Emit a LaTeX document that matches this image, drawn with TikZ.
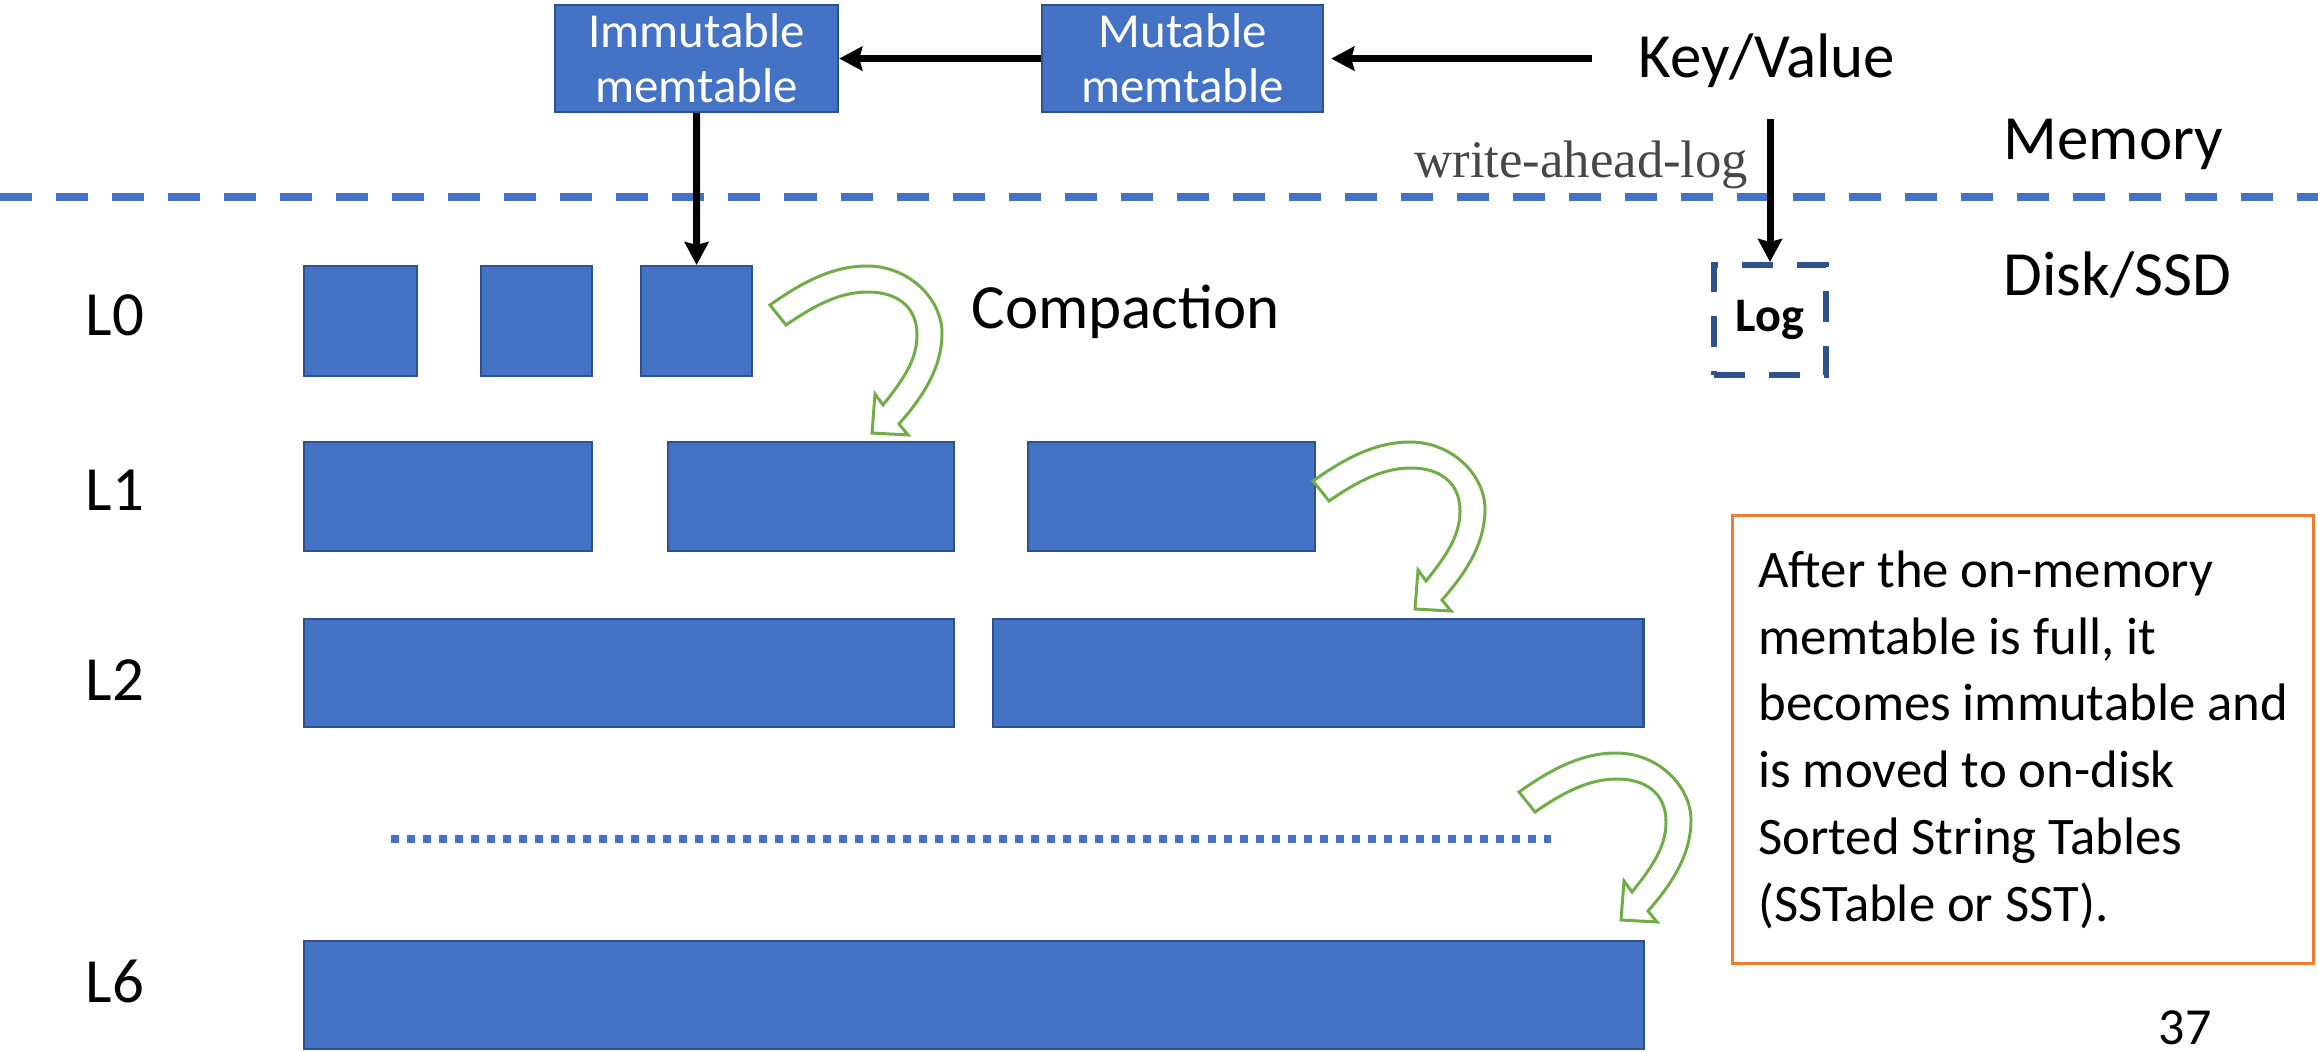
\documentclass[tikz,border=0pt]{standalone}
\usepackage{fontspec}
\setmainfont{Carlito}
\newfontfamily\walfont{Liberation Serif}
\usepackage{xcolor}
\definecolor{sstblue}{HTML}{4472C4}
\definecolor{sstedge}{HTML}{2F528F}
\definecolor{swirlgreen}{HTML}{70AD47}
\definecolor{noteorange}{HTML}{ED7D31}
\usetikzlibrary{arrows.meta}
\tikzset{>={Stealth[length=2.3mm,width=2.4mm,inset=0.3mm]}}
\tikzset{%
    sst/.style={draw=sstedge, fill=sstblue, line width=0.6pt, inner sep=0pt, anchor=north west},
    mem/.style={sst, text=white, align=center, font=\fontsize{13.9}{15.6}\selectfont},
    flow/.style={->, line width=2pt},
    swirl/.style={draw=swirlgreen, fill=white, line width=0.85pt},
    lvl/.style={anchor=base west, inner sep=0pt, font=\fontsize{17.9}{21}\selectfont}
}

\begin{document}
\begin{tikzpicture}[x=0.01cm, y=-0.01cm]
    \def\curlarrow{(0,0) .. controls (35,-25) and (65,-39) .. (97,-39)
        .. controls (140,-39) and (172,-5) .. (172,28)
        .. controls (172,65) and (150,95) .. (129,119)
        -- (138,130) -- (102,128) -- (105,89) -- (113,100)
        .. controls (133,75) and (147,55) .. (147,30)
        .. controls (147,0) and (125,-13) .. (98,-13)
        .. controls (70,-13) and (45,0) .. (16,20) -- cycle};
\useasboundingbox (0,0) rectangle (2318,1052);
% memory / disk border
\draw[sstblue, line width=2.28pt, dash pattern=on 0.32cm off 0.24cm] (0,197) -- (2318,197);
\node[mem, minimum width=2.83cm, minimum height=1.07cm] (imm) at (554,4) {Immutable\\memtable};
\node[mem, minimum width=2.81cm, minimum height=1.07cm] (mut) at (1041,4) {Mutable\\memtable};
\node[lvl] (kv) at (1638,78) {Key/Value};
\node[lvl] (memory) at (2003,160) {Memory};
\node[lvl] (disk) at (2003,296) {Disk/SSD};
\node[anchor=base east, inner sep=0pt, text=black!72, font=\walfont\fontsize{15}{17}\selectfont] (wal) at (1749,178) {write-ahead-log};
\node[draw=sstedge, line width=1.7pt, dash pattern=on 0.31cm off 0.24cm, minimum width=1.12cm, minimum height=1.1cm, font=\fontsize{13.7}{16}\selectfont\bfseries] (log) at (1770,320) {Log};
% levels
\node[lvl] (lab0) at (85,336) {L0};
\node[lvl] (lab1) at (85,511) {L1};
\node[lvl] (lab2) at (85,700) {L2};
\node[lvl] (lab6) at (85,1002) {L6};
\node[sst, minimum width=1.13cm, minimum height=1.1cm] (l0a) at (303,265) {};
\node[sst, minimum width=1.11cm, minimum height=1.1cm] (l0b) at (480,265) {};
\node[sst, minimum width=1.11cm, minimum height=1.1cm] (l0c) at (640,265) {};
\node[sst, minimum width=2.88cm, minimum height=1.09cm] (l1a) at (303,441) {};
\node[sst, minimum width=2.86cm, minimum height=1.09cm] (l1b) at (667,441) {};
\node[sst, minimum width=2.87cm, minimum height=1.09cm] (l1c) at (1027,441) {};
\node[sst, minimum width=6.5cm, minimum height=1.08cm] (l2a) at (303,618) {};
\node[sst, minimum width=6.5cm, minimum height=1.08cm] (l2b) at (992,618) {};
\node[sst, minimum width=13.39cm, minimum height=1.08cm] (l6a) at (303,940) {};
\draw[sstblue, line width=2.28pt, dash pattern=on 0.08cm off 0.08cm] (391,839) -- (1551,839);
% arrows
\draw[flow] (mut.west) -- (imm.east);
\draw[flow, shorten <=0.46cm, shorten >=0.07cm] (kv.west |- mut.east) -- (mut.east);
\draw[flow] (imm.south) -- (l0c.north);
\draw[flow, shorten <=0.3cm] (kv.south -| log.north) -- (log.north);
\draw[swirl, shift={(770,305)}] \curlarrow;
\draw[swirl, shift={(1313,481)}] \curlarrow;
\draw[swirl, shift={(1519,792)}] \curlarrow;
\node[lvl] (compaction) at (971,329) {Compaction};
\node[draw=noteorange, line width=0.85pt, minimum width=5.81cm, minimum height=4.48cm, align=left, anchor=north west, font=\fontsize{15}{19}\selectfont] (note) at (1731,514) {After the on-memory\\memtable is full, it\\becomes immutable and\\is moved to on-disk\\Sorted String Tables\\(SSTable or SST).};
\node[anchor=base west, inner sep=0pt, font=\fontsize{14.8}{17}\selectfont] (page) at (2158,1044) {37};
\end{tikzpicture}
\end{document}
